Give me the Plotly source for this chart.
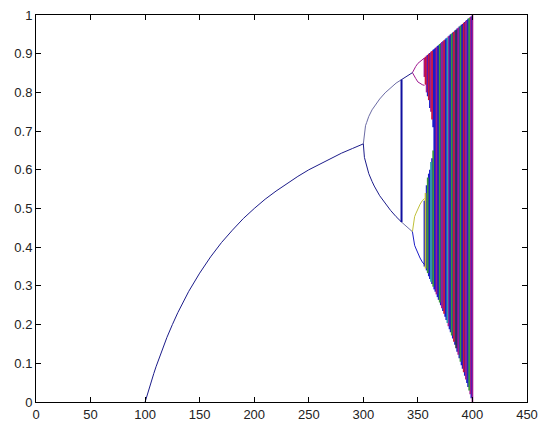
import plotly.graph_objects as go

# ---- data (x = r*100, y = population value) ----
fixed_x = [100, 102, 104, 106, 108, 110, 115, 120, 125, 130, 140, 150, 160, 170, 180,
           190, 200, 210, 220, 230, 240, 250, 260, 270, 280, 290, 300]
fixed_y = [0.0, 0.02, 0.038, 0.057, 0.074, 0.091, 0.13, 0.167, 0.2, 0.231, 0.286, 0.333,
           0.375, 0.412, 0.444, 0.474, 0.5, 0.524, 0.545, 0.565, 0.583, 0.6, 0.615, 0.63,
           0.643, 0.655, 0.667]

p2_x = [300, 301, 302, 303, 305, 308, 310, 315, 320, 325, 330, 335, 340, 345]
p2_hi = [0.667, 0.699, 0.714, 0.722, 0.738, 0.755, 0.764, 0.783, 0.799, 0.812, 0.824, 0.833, 0.842, 0.851]
p2_lo = [0.667, 0.632, 0.620, 0.608, 0.590, 0.570, 0.558, 0.533, 0.513, 0.495, 0.479, 0.465, 0.452, 0.440]
jump_x = 335

p4_x = [345, 346, 347, 348, 350, 352, 354, 356]
p4_a = [0.851, 0.858, 0.863, 0.867, 0.875, 0.880, 0.885, 0.889]
p4_b = [0.851, 0.845, 0.840, 0.836, 0.827, 0.823, 0.820, 0.818]
p4_c = [0.440, 0.468, 0.479, 0.486, 0.501, 0.511, 0.520, 0.526]
p4_d = [0.440, 0.415, 0.405, 0.398, 0.383, 0.372, 0.362, 0.355]

chaos_x = list(range(356, 401))
chaos_hi = [0.889, 0.892, 0.895, 0.897, 0.900, 0.902, 0.905, 0.907, 0.910, 0.912, 0.915,
            0.917, 0.920, 0.922, 0.925, 0.927, 0.930, 0.932, 0.935, 0.937, 0.940, 0.942,
            0.945, 0.947, 0.950, 0.952, 0.955, 0.957, 0.960, 0.962, 0.965, 0.967, 0.970,
            0.972, 0.975, 0.977, 0.980, 0.982, 0.985, 0.987, 0.990, 0.992, 0.995, 0.997, 1.000]
chaos_lo = [0.350, 0.345, 0.340, 0.333, 0.325, 0.318, 0.311, 0.305, 0.298, 0.291, 0.285,
            0.278, 0.271, 0.264, 0.257, 0.250, 0.242, 0.235, 0.228, 0.220, 0.212, 0.204,
            0.196, 0.188, 0.180, 0.172, 0.164, 0.156, 0.148, 0.139, 0.130, 0.122, 0.113,
            0.104, 0.095, 0.086, 0.077, 0.068, 0.058, 0.049, 0.039, 0.030, 0.020, 0.010, 0.000]
chaos_col = ["b", "y", "b", "g", "b", "b", "c", "b", "g", "b", "b", "m", "b", "b", "g",
             "b", "m", "b", "r", "b", "b", "c", "m", "b", "b", "g", "b", "r", "b", "k",
             "b", "m", "b", "g", "b", "b", "r", "b", "m", "b", "b", "g", "m", "b", "m"]

gap_x = [356, 357, 358, 359, 360, 361, 362, 363, 364]
gap_top = [0.84, 0.82, 0.80, 0.79, 0.78, 0.76, 0.75, 0.73, 0.71]
gap_bot = [0.52, 0.54, 0.56, 0.58, 0.59, 0.60, 0.62, 0.63, 0.65]
gap_upper_col = ["m", "r", "m", "b", "r", "b", "m", "r", "b"]

palette = {"b": "#1c1cc8", "g": "#3c963c", "r": "#c8143c", "c": "#2c9cb0",
           "m": "#a01890", "y": "#c0c038", "k": "#30304a"}
navy = "#1c1c8a"

fig = go.Figure()

# chaotic region as vertical strips
segs = {}
gap_map = {gx: (gt, gb, gc) for gx, gt, gb, gc in zip(gap_x, gap_top, gap_bot, gap_upper_col)}
for x, lo, hi, c in zip(chaos_x, chaos_lo, chaos_hi, chaos_col):
    if x in gap_map:
        gt, gb, gc = gap_map[x]
        segs.setdefault(c, ([], []))
        segs[c][0].extend([x, x, None]); segs[c][1].extend([lo, gb, None])
        segs.setdefault(gc, ([], []))
        segs[gc][0].extend([x, x, None]); segs[gc][1].extend([gt, hi, None])
    else:
        segs.setdefault(c, ([], []))
        segs[c][0].extend([x, x, None]); segs[c][1].extend([lo, hi, None])
for c, (xs, ys) in segs.items():
    fig.add_trace(go.Scatter(x=xs, y=ys, mode="lines",
                             line=dict(color=palette[c], width=1.7), hoverinfo="skip"))

# period-4 branches
for ys, c in [(p4_a, "m"), (p4_b, "m"), (p4_c, "y"), (p4_d, "b")]:
    fig.add_trace(go.Scatter(x=p4_x, y=ys, mode="lines",
                             line=dict(color=palette[c], width=1), hoverinfo="skip"))

# period-2 branches (the ones without the jump)
j = p2_x.index(jump_x)
fig.add_trace(go.Scatter(x=p2_x[:j + 1] + [None] + p2_x[j:],
                         y=p2_hi[:j + 1] + [None] + p2_lo[j:], mode="lines",
                         line=dict(color="#5a5a9a", width=0.9), hoverinfo="skip"))

# main column: fixed point, lower branch, jump, upper branch
fig.add_trace(go.Scatter(x=fixed_x + p2_x[1:j + 1] + p2_x[j:],
                         y=fixed_y + p2_lo[1:j + 1] + p2_hi[j:], mode="lines",
                         line=dict(color=navy, width=1), hoverinfo="skip"))
fig.add_trace(go.Scatter(x=[jump_x, jump_x], y=[p2_lo[j], p2_hi[j]], mode="lines",
                         line=dict(color="#1010a0", width=2), hoverinfo="skip"))

axis_common = dict(showline=True, linecolor="black", linewidth=1, mirror="ticks",
                   ticks="inside", ticklen=5, tickcolor="black", tickwidth=1,
                   showgrid=False, zeroline=False, automargin=False,
                   tickfont=dict(family="Liberation Sans, Arial, sans-serif", size=13,
                                 color="#222222"))

fig.update_layout(
    width=539, height=427,
    margin=dict(l=36, r=12, t=15, b=25, autoexpand=False),
    paper_bgcolor="white", plot_bgcolor="white",
    showlegend=False,
    xaxis=dict(range=[0, 450], dtick=50, tick0=0, **axis_common),
    yaxis=dict(range=[0, 1], dtick=0.1, tick0=0, **axis_common),
)

fig.write_html("out.html")
